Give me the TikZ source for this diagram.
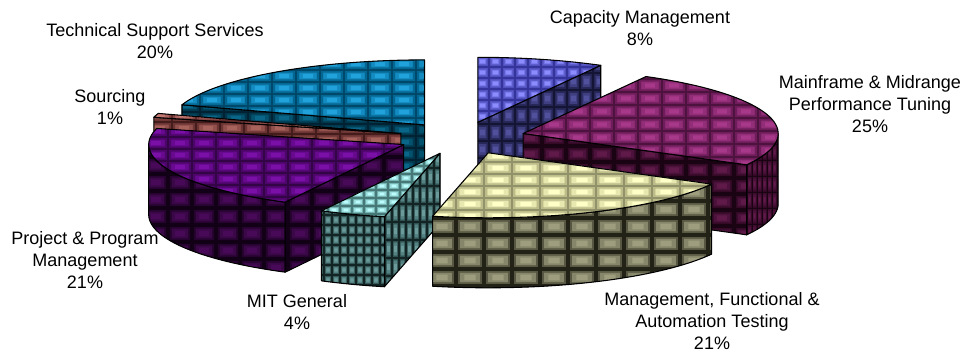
\documentclass[tikz,border=0pt]{standalone}
\usepackage{fontspec}
\setmainfont{Liberation Sans}

% tile colours: <slice><T|S><D|M|L> = top/side, dark/mid/light
\definecolor{techTD}{HTML}{00486A}\definecolor{techTM}{HTML}{0678AA}\definecolor{techTL}{HTML}{22A2DA}
\definecolor{techSD}{HTML}{002232}\definecolor{techSM}{HTML}{00425A}\definecolor{techSL}{HTML}{0A6688}
\definecolor{capTD}{HTML}{34349A}\definecolor{capTM}{HTML}{5E5ED2}\definecolor{capTL}{HTML}{8C8CFF}
\definecolor{capSD}{HTML}{141434}\definecolor{capSM}{HTML}{303068}\definecolor{capSL}{HTML}{50509C}
\definecolor{srcTD}{HTML}{602A2A}\definecolor{srcTM}{HTML}{985452}\definecolor{srcTL}{HTML}{C47A74}
\definecolor{srcSD}{HTML}{441C1C}\definecolor{srcSM}{HTML}{804240}\definecolor{srcSL}{HTML}{A8625C}
\definecolor{mainTD}{HTML}{4E123F}\definecolor{mainTM}{HTML}{80246A}\definecolor{mainTL}{HTML}{A8388A}
\definecolor{mainSD}{HTML}{1A0414}\definecolor{mainSM}{HTML}{3E0C2E}\definecolor{mainSL}{HTML}{601A4A}
\definecolor{projTD}{HTML}{330446}\definecolor{projTM}{HTML}{5A067C}\definecolor{projTL}{HTML}{7A10A8}
\definecolor{projSD}{HTML}{120016}\definecolor{projSM}{HTML}{2E053A}\definecolor{projSL}{HTML}{480A58}
\definecolor{mitTD}{HTML}{467878}\definecolor{mitTM}{HTML}{80C4C4}\definecolor{mitTL}{HTML}{BAFCFC}
\definecolor{mitSD}{HTML}{122424}\definecolor{mitSM}{HTML}{426C6C}\definecolor{mitSL}{HTML}{6A9A9A}
\definecolor{mgmtTD}{HTML}{92926A}\definecolor{mgmtTM}{HTML}{D4D49C}\definecolor{mgmtTL}{HTML}{FFFFC8}
\definecolor{mgmtSD}{HTML}{222216}\definecolor{mgmtSM}{HTML}{72725A}\definecolor{mgmtSL}{HTML}{9E9E7E}

\tikzset{
  outl/.style={draw=black, line width=0.8pt, line join=round},
  lbl/.style={font=\fontsize{13.5}{16.5}\selectfont, align=center, inner sep=0pt, text=black},
}

% faces of one slice; centre (\px,\py), top arc \ta..\tb, side arc \sa..\sb, cut face at \ra
\def\topP{(\px,\py) -- plot[domain=\ta:\tb,samples=40] ({\px+255*sin(\x)},{\py-65*cos(\x)}) -- cycle}
\def\sideP{plot[domain=\sa:\sb,samples=40] ({\px+255*sin(\x)},{\py-65*cos(\x)}) -- plot[domain=\sb:\sa,samples=40] ({\px+255*sin(\x)},{\py+70-65*cos(\x)}) -- cycle}
\def\radP{(\px,\py) -- ({\px+255*sin(\ra)},{\py-65*cos(\ra)}) -- ({\px+255*sin(\ra)},{\py+70-65*cos(\ra)}) -- (\px,{\py+70}) -- cycle}

% textured face: #1 path, #2 colour family, #3/#4 tile size, #5..#8 tiling box
\newcommand\texface[8]{%
  \begin{scope}
    \clip #1;
    \fill[#2M] (#5,#6) rectangle (#7,#8);
    \pgfmathtruncatemacro\nx{ceil((#7-#5)/#3)}%
    \pgfmathtruncatemacro\ny{ceil((#8-#6)/#4)}%
    \pgfmathsetmacro\lw{0.75*0.2*min(#3,#4)}%
    \pgfmathsetmacro\lww{0.75*0.5*min(#3,#4)}%
    \fill[#2L!45!#2M] foreach \i in {0,...,\nx}{foreach \j in {0,...,\ny}{
      ({#5+(\i+0.14)*#3},{#6+(\j+0.16)*#4}) rectangle ({#5+(\i+0.86)*#3},{#6+(\j+0.84)*#4})}};
    \fill[#2L] foreach \i in {0,...,\nx}{foreach \j in {0,...,\ny}{
      ({#5+(\i+0.3)*#3},{#6+(\j+0.33)*#4}) rectangle ({#5+(\i+0.7)*#3},{#6+(\j+0.67)*#4})}};
    \draw[#2D, line width=\lww pt, opacity=0.35]
      foreach \i in {0,...,\nx}{({#5+\i*#3},#6) -- ({#5+\i*#3},#8)}
      foreach \j in {0,...,\ny}{(#5,{#6+\j*#4}) -- (#7,{#6+\j*#4})};
    \draw[#2D, line width=\lw pt]
      foreach \i in {0,...,\nx}{({#5+\i*#3},#6) -- ({#5+\i*#3},#8)}
      foreach \j in {0,...,\ny}{(#5,{#6+\j*#4}) -- (#7,{#6+\j*#4})};
  \end{scope}
  \path[outl] #1;
}

\begin{document}
\begin{tikzpicture}[x=0.75pt, y=-0.75pt]
\useasboundingbox (0,0) rectangle (964,354);
\fill[white] (0,0) rectangle (964,354);

% Technical Support Services 20%
\def\px{424.5}\def\py{124.9}\def\ta{288}\def\tb{360}\def\ra{288}
\texface{\radP}{techS}{24}{12}{176}{100}{428}{197}
\texface{\topP}{techT}{24}{12}{176}{58}{428}{126}

% Capacity Management 8%
\def\px{477.9}\def\py{122.3}\def\ta{0}\def\tb{28.8}\def\ra{28.8}
\texface{\radP}{capS}{13}{17}{476}{56}{604}{194}
\texface{\topP}{capT}{13}{11}{476}{56}{604}{124}

% Sourcing 1%
\def\px{400.8}\def\py{133.5}\def\ta{284.4}\def\tb{288}\def\ra{284.4}
\texface{\radP}{srcS}{24}{12}{148}{110}{404}{206}
\texface{\topP}{srcT}{24}{11}{148}{110}{404}{136}

% Mainframe & Midrange Performance Tuning 25%
\def\px{523.2}\def\py{133.5}\def\ta{28.8}\def\tb{118.8}\def\ra{118.8}\def\sa{90}\def\sb{118.8}
\texface{\radP}{mainS}{24}{16}{518}{130}{752}{236}
\texface{\sideP}{mainS}{5}{16}{742}{128}{782}{236}
\texface{\topP}{mainT}{24}{13}{518}{66}{782}{166}

% Project & Program Management 21%
\def\px{403.7}\def\py{144.6}\def\ta{207.7}\def\tb{284.4}\def\ra{207.7}\def\sa{207.7}\def\sb{270}
\texface{\radP}{projS}{24}{17}{144}{140}{406}{290}
\texface{\sideP}{projS}{24}{17}{144}{140}{406}{290}
\texface{\topP}{projT}{24}{12}{144}{125}{406}{206}

% MIT General 4%
\def\px{440.0}\def\py{153.3}\def\ta{192.6}\def\tb{207.7}\def\ra{192.6}\def\sa{192.6}\def\sb{207.7}
\texface{\radP}{mitS}{7}{18}{378}{150}{444}{292}
\texface{\sideP}{mitS}{8}{10}{316}{205}{390}{292}
\texface{\topP}{mitT}{12}{8}{316}{150}{444}{222}

% Management, Functional & Automation Testing 21%
\def\px{488.2}\def\py{152.8}\def\ta{118.8}\def\tb{192.6}\def\sa{118.8}\def\sb{192.6}
\texface{\sideP}{mgmtS}{28}{17}{428}{150}{716}{292}
\texface{\topP}{mgmtT}{28}{12}{428}{150}{716}{222}

% labels
\node[lbl] (lcap)  at (640,28)  {Capacity Management\\8\%};
\node[lbl] (lmain) at (870,104) {Mainframe \& Midrange\\Performance Tuning\\25\%};
\node[lbl] (lmgmt) at (712,321) {Management, Functional \&\\Automation Testing\\21\%};
\node[lbl] (lmit)  at (297,312) {MIT General\\4\%};
\node[lbl] (lproj) at (85,260)  {Project \& Program\\Management\\21\%};
\node[lbl] (lsrc)  at (110,107) {Sourcing\\1\%};
\node[lbl] (ltech) at (155,41)  {Technical Support Services\\20\%};
\end{tikzpicture}
\end{document}
